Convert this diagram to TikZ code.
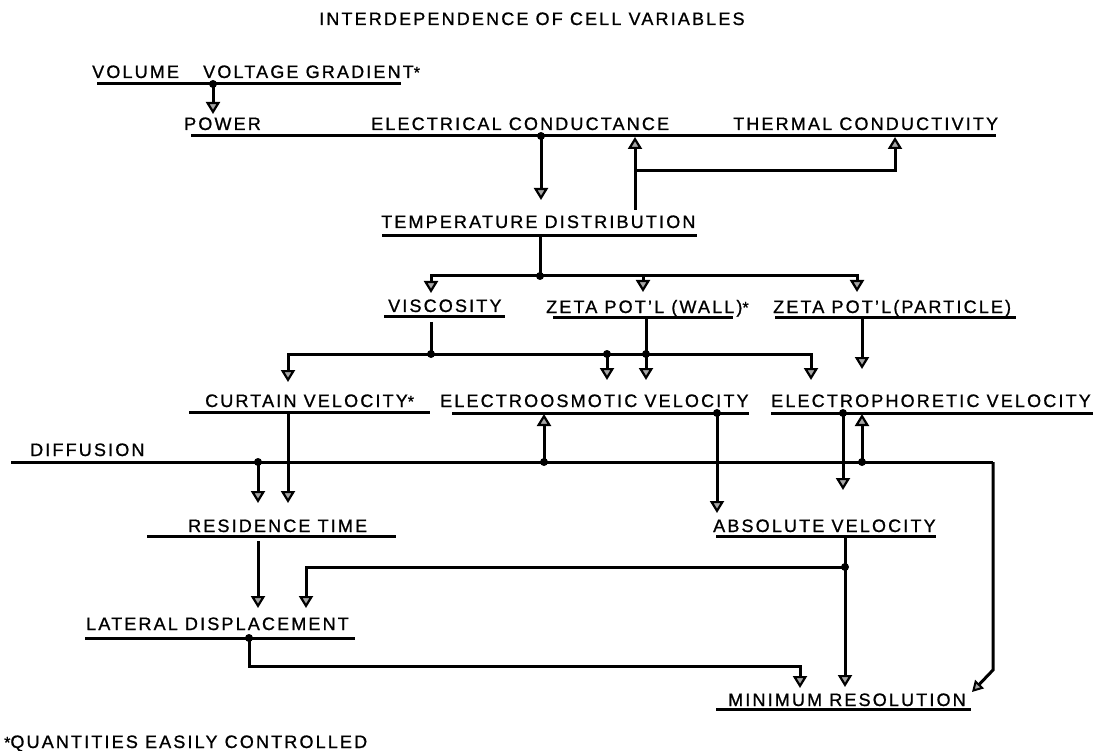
\documentclass[tikz,border=0pt]{standalone}
\usepackage{fontspec}
\setmainfont{Liberation Sans}[LetterSpace=12, FakeBold=1]
\usetikzlibrary{arrows.meta}
\newcommand{\qmark}{\raisebox{0pt}{\fontsize{16}{16}\selectfont *}}
\begin{document}
\begin{tikzpicture}[x=1pt,y=-1pt,
  lbl/.style={anchor=base west, inner sep=0pt, font=\fontsize{18}{21}\selectfont},
  uline/.style={line width=3pt},
  conn/.style={line width=3pt},
  arr/.style={conn, -{Triangle[width=14pt,length=12pt,fill=gray!70,line width=2.2pt]}},
  jdot/.style={circle, fill=black, inner sep=0pt, minimum size=8pt}
]
\useasboundingbox (0,0) rectangle (1095,751);

% ---- labels ----
\node[lbl] (title) at (319,25) {INTERDEPENDENCE OF CELL VARIABLES};
\node[lbl] (vol) at (92,78) {VOLUME};
\node[lbl] (vg) at (203,78) {VOLTAGE GRADIENT\qmark};
\node[lbl] (pow) at (184,130) {POWER};
\node[lbl] (ec) at (371,130) {ELECTRICAL CONDUCTANCE};
\node[lbl] (tc) at (733,130) {THERMAL CONDUCTIVITY};
\node[lbl] (td) at (381,228) {TEMPERATURE DISTRIBUTION};
\node[lbl] (visc) at (388,312) {VISCOSITY};
\node[lbl] (zw) at (546,313) {ZETA POT'L (WALL)\qmark};
\node[lbl] (zp) at (773,313) {ZETA POT'L(PARTICLE)};
\node[lbl] (cv) at (205,407) {CURTAIN VELOCITY\qmark};
\node[lbl] (eo) at (440,407) {ELECTROOSMOTIC VELOCITY};
\node[lbl] (ep) at (771,407) {ELECTROPHORETIC VELOCITY};
\node[lbl] (diff) at (30,456) {DIFFUSION};
\node[lbl] (rt) at (188,532) {RESIDENCE TIME};
\node[lbl] (av) at (713,532) {ABSOLUTE VELOCITY};
\node[lbl] (ld) at (86,630) {LATERAL DISPLACEMENT};
\node[lbl] (mr) at (728,706) {MINIMUM RESOLUTION};
\node[lbl] (foot) at (4,748) {\qmark QUANTITIES EASILY CONTROLLED};

% ---- underlines ----
\coordinate (u1a) at (97,84);   \coordinate (u1b) at (401,84);
\coordinate (u2a) at (191,136); \coordinate (u2b) at (996,136);
\coordinate (u3a) at (382,236); \coordinate (u3b) at (697,236);
\coordinate (u4a) at (384,317); \coordinate (u4b) at (505,317);
\coordinate (u5a) at (553,318); \coordinate (u5b) at (733,318);
\coordinate (u6a) at (775,318); \coordinate (u6b) at (1016,318);
\coordinate (u7a) at (189,412); \coordinate (u7b) at (430,412);
\coordinate (u8a) at (452,413); \coordinate (u8b) at (749,413);
\coordinate (u9a) at (771,413); \coordinate (u9b) at (1093,413);
\coordinate (dL) at (11,462);   \coordinate (dR) at (993,462);
\coordinate (u10a) at (147,536); \coordinate (u10b) at (396,536);
\coordinate (u11a) at (716,536); \coordinate (u11b) at (936,536);
\coordinate (u12a) at (85,638);  \coordinate (u12b) at (355,638);
\coordinate (u13a) at (716,709); \coordinate (u13b) at (971,709);
\foreach \a/\b in {u1a/u1b,u2a/u2b,u3a/u3b,u4a/u4b,u5a/u5b,u6a/u6b,u7a/u7b,u8a/u8b,u9a/u9b,dL/dR,u10a/u10b,u11a/u11b,u12a/u12b,u13a/u13b}
  \draw[uline] (\a) -- (\b);

% ---- junction dots ----
\node[jdot] (j1) at (213,84) {};
\node[jdot] (j2) at (541,136) {};
\node[jdot] (j3) at (540,276) {};
\node[jdot] (j4) at (431,354) {};
\node[jdot] (j5) at (607,354) {};
\node[jdot] (j6) at (646,354) {};
\node[jdot] (j7) at (258,462) {};
\node[jdot] (j8) at (544,462) {};
\node[jdot] (j9) at (717,413) {};
\node[jdot] (j10) at (843,413) {};
\node[jdot] (j11) at (862,462) {};
\node[jdot] (j12) at (845,567) {};
\node[jdot] (j13) at (249,638) {};

% ---- connector ends ----
\coordinate (powIn) at (213,114);
\coordinate (tdIn) at (541,200);
\coordinate (tdUp) at (635,210);
\coordinate (ecIn) at (635,137);
\coordinate (brA) at (635,171);
\coordinate (tcIn) at (895,137);
\coordinate (tdOut) at (540,236);
\coordinate (viscIn) at (431,293);
\coordinate (zwIn) at (643,292);
\coordinate (zwTap) at (643,276);
\coordinate (zpIn) at (857,292);
\coordinate (viscOut) at (431,322);
\coordinate (cvIn) at (288,382);
\coordinate (eoIn1) at (607,380);
\coordinate (zwOut) at (646,318);
\coordinate (eoIn2) at (646,380);
\coordinate (epIn1) at (811,380);
\coordinate (zpOut) at (862,318);
\coordinate (epIn2) at (862,369);
\coordinate (cvOut) at (288,412);
\coordinate (rtIn2) at (288,503);
\coordinate (rtIn1) at (258,503);
\coordinate (eoUp) at (544,414);
\coordinate (avIn) at (717,513);
\coordinate (epDn) at (843,490);
\coordinate (epUp) at (862,414);
\coordinate (dCorner) at (993,670);
\coordinate (mrIn3) at (972,692);
\coordinate (rtOut) at (258,541);
\coordinate (ldIn1) at (258,608);
\coordinate (ldIn2) at (306,608);
\coordinate (avOut) at (845,536);
\coordinate (mrIn2) at (845,687);
\coordinate (ldBend) at (800,666);
\coordinate (mrIn1) at (800,688);

% ---- connectors ----
\draw[arr] (j1.center) -- (powIn);
\draw[arr] (j2.center) -- (tdIn);
\draw[arr] (tdUp) -- (ecIn);
\draw[arr] (brA) -| (tcIn);
\draw[conn] (tdOut) -- (j3.center);
\draw[arr] (j3.center) -| (viscIn);
\draw[arr] (j3.center) -| (zpIn);
\draw[arr] (zwTap) -- (zwIn);
\draw[conn] (viscOut) -- (j4.center);
\draw[arr] (j4.center) -| (cvIn);
\draw[arr] (j4.center) -| (epIn1);
\draw[arr] (j5.center) -- (eoIn1);
\draw[arr] (zwOut) -- (eoIn2);
\draw[arr] (zpOut) -- (epIn2);
\draw[arr] (cvOut) -- (rtIn2);
\draw[arr] (j7.center) -- (rtIn1);
\draw[arr] (j8.center) -- (eoUp);
\draw[arr] (j9.center) -- (avIn);
\draw[arr] (j10.center) -- (epDn);
\draw[arr] (j11.center) -- (epUp);
\draw[line width=3pt, -{Triangle[width=12pt,length=11pt,fill=gray!70,line width=2pt]}] (dR) -- (dCorner) -- (mrIn3);
\draw[arr] (rtOut) -- (ldIn1);
\draw[arr] (avOut) -- (mrIn2);
\draw[arr] (j12.center) -| (ldIn2);
\draw[arr] (j13.center) |- (ldBend) -- (mrIn1);
\end{tikzpicture}
\end{document}
